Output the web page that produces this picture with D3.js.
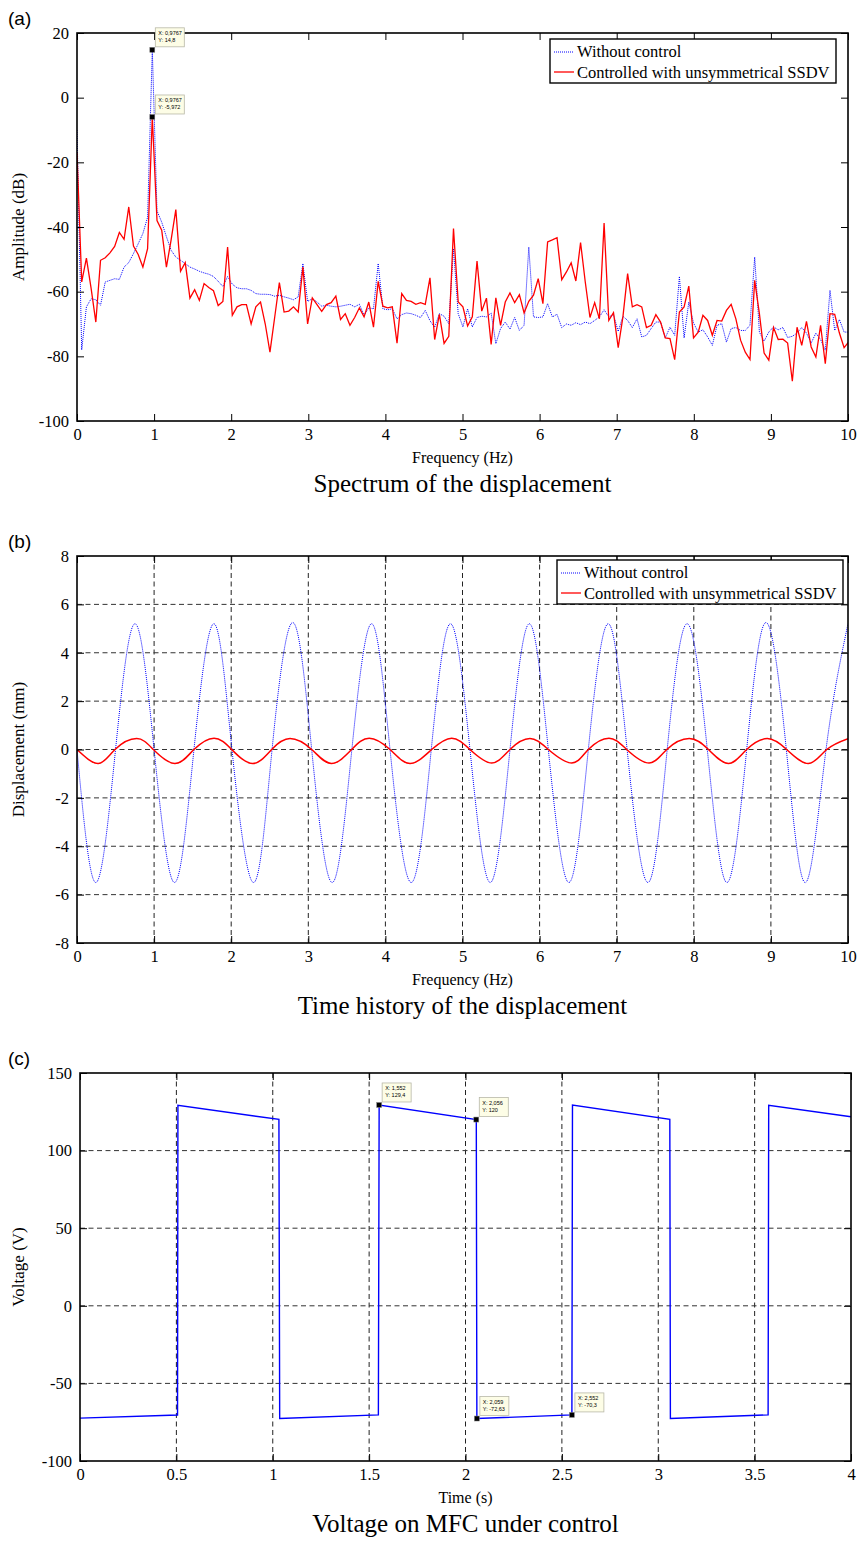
<!DOCTYPE html>
<html>
<head>
<meta charset="utf-8">
<script src="https://cdn.jsdelivr.net/npm/d3@7"></script>
<style>
  body { margin: 0; background: #fff; }
  text { font-family: "Liberation Serif", "Times New Roman", serif; }
</style>
</head>
<body>
<script>
console.log("script loaded");

// (a) spectrum, one value every df Hz starting at 0 Hz
const df = 0.06104;
const specWithout = [
  -10, -78, -64.7, -62.2, -62.5, -64.2, -57, -56.5, -56, -56.2,
  -52.4, -51, -48.2, -45.2, -42, -37, 14.8, -35, -38.5, -43,
  -47.2, -49.3, -50.3, -51.3, -52.4, -53, -53.7, -54.2, -54.6, -55.3,
  -56.8, -58.4, -55.3, -57.7, -58.8, -59.1, -59.1, -59.6, -60.6, -60.8,
  -60.8, -60.9, -61.4, -61.1, -61.6, -62, -62.5, -61.6, -51.3, -63,
  -62.2, -63.2, -64.5, -64.2, -64.5, -64.7, -64.5, -64.2, -63.9, -64.7,
  -63.9, -67.3, -65, -65.3, -51.3, -65.3, -65.6, -65.3, -68.4, -67.1,
  -66.6, -66.8, -67.3, -68, -65.8, -69, -71, -66.8, -67.6, -69.9,
  -46.7, -66.8, -70.9, -65.3, -70.9, -68, -67.6, -67.8, -66.6, -76.1,
  -71.4, -69.4, -71.6, -68, -72, -70.4, -46.2, -67.8, -68, -67.8,
  -63.7, -67.8, -67, -71.1, -70, -70.4, -69.6, -70.2, -69.4, -69.9,
  -68.9, -67.8, -65.6, -67.8, -67.1, -72.3, -67.6, -68.9, -71.1, -68.4,
  -74, -73.5, -71.4, -69.4, -69.4, -74.3, -71, -73.5, -55.3, -74.3,
  -63.2, -69.7, -72.5, -71.8, -74, -76.6, -70.4, -69.9, -75.6, -71.4,
  -71.1, -72, -72, -70.4, -49.3, -72.5, -75.3, -72.5, -70.9, -71.8,
  -71.1, -74.2, -73.8, -72.8, -71.1, -72.8, -75.9, -72.8, -74.8, -78.1,
  -59.6, -72, -68.6, -72.5, -72.5
];
const specControlled = [
  -17, -57, -49.6, -59, -69.4, -50.3, -49.5, -48, -46, -41.7,
  -43.8, -33.8, -45.9, -48.5, -52.4, -46.7, -5.97, -38, -41, -52.4,
  -44, -34.6, -53.7, -51, -62, -59.4, -62.7, -57.5, -58.7, -59.7,
  -64.3, -63, -46.2, -67.3, -64.7, -64, -64, -70, -64.7, -63.2,
  -70, -78.7, -68, -57.2, -66.3, -66, -64.7, -66.3, -52.4, -70,
  -61.9, -64, -66.1, -64, -63.4, -61.4, -68.6, -66.8, -70.4, -68,
  -65, -67.8, -63.2, -71, -56.8, -64.5, -65, -64.7, -75.9, -60.6,
  -62.7, -63, -63.9, -63.4, -63.9, -55.7, -74.8, -67, -76, -73.8,
  -40.5, -63.2, -64.7, -70.6, -67.8, -50.5, -66, -62, -76.3, -61.9,
  -70.4, -63.2, -60.4, -63.4, -60.9, -66.6, -63, -61.1, -56, -63.7,
  -44.6, -44, -43.3, -56.3, -53.9, -51.1, -56.7, -44.8, -57, -68,
  -63.4, -68.4, -38.8, -68.9, -66.5, -77.3, -67.8, -54.4, -64.7, -64,
  -64.7, -71.1, -70.4, -67.1, -69.4, -74.3, -74.5, -81, -66.3, -64.7,
  -58.3, -74.3, -72.5, -67.3, -68.9, -73.5, -68.9, -69.1, -65.8, -63.9,
  -68.4, -75, -78.7, -81, -56.5, -66.8, -79, -81.2, -71.1, -74.8,
  -74.7, -75.9, -87.7, -71, -76.6, -69.2, -77.1, -80.2, -70.4, -82.3,
  -66.8, -67, -72.8, -77.3, -75.5
];
const specTips = [
  { x: 0.9767, y: 14.8, lines: ["X: 0,9767", "Y: 14,8"] },
  { x: 0.9767, y: -5.972, lines: ["X: 0,9767", "Y: -5,972"] }
];
const specXTicks = [0, 1, 2, 3, 4, 5, 6, 7, 8, 9, 10];
const specYTicks = [20, 0, -20, -40, -60, -80, -100];

// (b) displacement, points read at zero crossings and peaks [t, mm]
const dispWithout = [
  [0, 0], [0.245, -5.5], [0.5, 0], [0.752, 5.2], [1.0, 0], [1.265, -5.5], [1.517, 0], [1.775, 5.2],
  [2.01, 0], [2.29, -5.5], [2.53, 0], [2.798, 5.25], [3.044, 0], [3.31, -5.5], [3.565, 0], [3.821, 5.2],
  [4.06, 0], [4.335, -5.5], [4.595, 0], [4.844, 5.2], [5.097, 0], [5.36, -5.5], [5.616, 0], [5.867, 5.2],
  [6.113, 0], [6.38, -5.5], [6.632, 0], [6.89, 5.2], [7.135, 0], [7.405, -5.5], [7.655, 0], [7.913, 5.2],
  [8.175, 0], [8.43, -5.5], [8.686, 0], [8.936, 5.25], [9.2, 0], [9.45, -5.5], [9.715, 0], [10, 5.2]
];
const dispControlled = [
  [0, 0], [0.276, -0.58], [0.493, 0], [0.774, 0.45], [0.99, 0], [1.27, -0.58], [1.517, 0], [1.777, 0.47],
  [2.006, 0], [2.278, -0.58], [2.525, 0], [2.763, 0.45], [3.044, 0], [3.3, -0.58], [3.563, 0], [3.79, 0.47],
  [4.06, 0], [4.32, -0.58], [4.6, 0], [4.86, 0.47], [5.097, 0], [5.378, -0.56], [5.616, 0], [5.875, 0.45],
  [6.113, 0], [6.416, -0.56], [6.632, 0], [6.9, 0.47], [7.13, 0], [7.42, -0.56], [7.65, 0], [7.94, 0.45],
  [8.19, 0], [8.45, -0.58], [8.686, 0], [8.953, 0.45], [9.205, 0], [9.485, -0.58], [9.724, 0], [10, 0.45]
];
const dispXTicks = [0, 1, 2, 3, 4, 5, 6, 7, 8, 9, 10];
const dispYTicks = [8, 6, 4, 2, 0, -2, -4, -6, -8];

// (c) voltage on the MFC [s, V]
const voltage = [
  [0, -72.4], [0.506, -70.4], [0.508, 129.2], [1.032, 120.1], [1.036, -72.6], [1.548, -70.3],
  [1.552, 129.4], [2.056, 120], [2.059, -72.63], [2.552, -70.3], [2.555, 129.3], [3.06, 120.2],
  [3.063, -72.6], [3.57, -70.3], [3.573, 129.2], [4, 121.8]
];
const voltTips = [
  { x: 1.552, y: 129.4, lines: ["X: 1,552", "Y: 129,4"] },
  { x: 2.056, y: 120, lines: ["X: 2,056", "Y: 120"] },
  { x: 2.059, y: -72.63, lines: ["X: 2,059", "Y: -72,63"] },
  { x: 2.552, y: -70.3, lines: ["X: 2,552", "Y: -70,3"] }
];
const voltXTicks = [0, 0.5, 1, 1.5, 2, 2.5, 3, 3.5, 4];
const voltYTicks = [150, 100, 50, 0, -50, -100];

const legendNames = ["Without control", "Controlled with unsymmetrical SSDV"];

const serif = "'Liberation Serif', 'Times New Roman', serif";
const sans = "'Liberation Sans', Arial, sans-serif";

let svg = d3.select("body")
  .append("svg")
    .attr("width", 860)
    .attr("height", 1541)
;

// frame, ticks, grid and labels of one panel
function makePanel(p){
  let x = d3.scaleLinear().domain(p.xDomain).range([p.left, p.right]);
  let y = d3.scaleLinear().domain(p.yDomain).range([p.bottom, p.top]);
  let g = svg.append("g");

  if (p.xGrid){
    g.selectAll(".vgrid").data(p.xGrid).enter()
      .append("line")
      .attr("x1", d => x(d)).attr("x2", d => x(d))
      .attr("y1", p.top).attr("y2", p.bottom)
      .attr("stroke", "#222").attr("stroke-dasharray", "5,3.5");
    g.selectAll(".hgrid").data(p.yGrid).enter()
      .append("line")
      .attr("x1", p.left).attr("x2", p.right)
      .attr("y1", d => y(d)).attr("y2", d => y(d))
      .attr("stroke", "#333").attr("stroke-dasharray", "5,3.5");
  }

  g.append("clipPath").attr("id", p.id)
    .append("rect")
      .attr("x", p.left).attr("y", p.top)
      .attr("width", p.right - p.left).attr("height", p.bottom - p.top);
  let plot = g.append("g").attr("clip-path", "url(#" + p.id + ")");

  let fmt = d => String(d);
  let axes = g.append("g");
  axes.append("g").attr("transform", "translate(0," + p.bottom + ")")
    .call(d3.axisBottom(x).tickValues(p.xTicks).tickSize(-7).tickSizeOuter(0).tickPadding(7).tickFormat(fmt));
  axes.append("g").attr("transform", "translate(0," + p.top + ")")
    .call(d3.axisTop(x).tickValues(p.xTicks).tickSize(-7).tickSizeOuter(0).tickFormat(""));
  axes.append("g").attr("transform", "translate(" + p.left + ",0)")
    .call(d3.axisLeft(y).tickValues(p.yTicks).tickSize(-7).tickSizeOuter(0).tickPadding(8).tickFormat(fmt));
  axes.append("g").attr("transform", "translate(" + p.right + ",0)")
    .call(d3.axisRight(y).tickValues(p.yTicks).tickSize(-7).tickSizeOuter(0).tickFormat(""));
  axes.selectAll(".domain").remove();
  axes.selectAll(".tick line").attr("stroke", "#000").attr("stroke-width", 1);
  axes.selectAll(".tick text")
    .style("font-family", serif).style("font-size", "16.5px").attr("fill", "#000");

  g.append("rect")
    .attr("x", p.left).attr("y", p.top)
    .attr("width", p.right - p.left).attr("height", p.bottom - p.top)
    .attr("fill", "none").attr("stroke", "#000").attr("stroke-width", 1.6);

  // (a), (b), (c)
  g.append("text").attr("x", 8).attr("y", p.top - 8)
    .style("font-family", sans).style("font-size", "19px")
    .text(p.tag);
  g.append("text").attr("x", (p.left + p.right) / 2).attr("y", p.bottom + 42)
    .attr("text-anchor", "middle").style("font-size", "16px").text(p.xLabel);
  g.append("text").attr("x", (p.left + p.right) / 2).attr("y", p.bottom + 71)
    .attr("text-anchor", "middle").style("font-size", "25px").text(p.title);
  g.append("text")
    .attr("transform", "translate(24," + (p.top + p.bottom) / 2 + ") rotate(-90)")
    .attr("text-anchor", "middle").style("font-size", "17px").text(p.yLabel);

  return { x: x, y: y, g: g, plot: plot };
}

function drawLegend(g, lx, ly, w){
  g.append("rect").attr("x", lx).attr("y", ly).attr("width", w).attr("height", 44)
    .attr("fill", "#fff").attr("stroke", "#000").attr("stroke-width", 1.4);
  g.append("line").attr("x1", lx + 4).attr("x2", lx + 24).attr("y1", ly + 13).attr("y2", ly + 13)
    .attr("stroke", "#0000ff").attr("stroke-dasharray", "1,1");
  g.append("line").attr("x1", lx + 4).attr("x2", lx + 24).attr("y1", ly + 33).attr("y2", ly + 33)
    .attr("stroke", "#ff0000").attr("stroke-width", 1.3);
  g.selectAll(".leg").data(legendNames).enter()
    .append("text")
    .attr("x", lx + 27)
    .attr("y", (d, i) => ly + 18 + i * 21)
    .style("font-size", "16.5px")
    .text(d => d);
}

// data cursor boxes like the ones matlab leaves on the figure
function drawTips(panel, tips){
  let t = panel.g.selectAll(".tip").data(tips).enter().append("g")
    .attr("transform", d => "translate(" + panel.x(d.x) + "," + panel.y(d.y) + ")");
  t.append("rect").attr("x", 3).attr("y", -22).attr("width", 29).attr("height", 19)
    .attr("fill", "#fdfde6").attr("stroke", "#b8b8a8").attr("stroke-width", 0.8);
  t.append("text").attr("x", 6).attr("y", -15)
    .style("font-family", sans).style("font-size", "5.5px")
    .text(d => d.lines[0]);
  t.append("text").attr("x", 6).attr("y", -7.5)
    .style("font-family", sans).style("font-size", "5.5px")
    .text(d => d.lines[1]);
  t.append("rect").attr("x", -2.5).attr("y", -2.5).attr("width", 5).attr("height", 5)
    .attr("fill", "#000").attr("stroke", "#888").attr("stroke-width", 0.5);
}

// 1. spectrum
let pa = makePanel({
  id: "clipA", tag: "(a)", left: 77, right: 848, top: 33, bottom: 421,
  xDomain: [0, 10], yDomain: [-100, 20], xTicks: specXTicks, yTicks: specYTicks,
  xLabel: "Frequency (Hz)", yLabel: "Amplitude (dB)", title: "Spectrum of the displacement"
});
let specLine = d3.line().x((d, i) => pa.x(i * df)).y(d => pa.y(d));
pa.plot.append("path").datum(specWithout).attr("d", specLine)
  .attr("fill", "none").attr("stroke", "#0000ff").attr("stroke-width", 1).attr("stroke-dasharray", "1,1");
pa.plot.append("path").datum(specControlled).attr("d", specLine)
  .attr("fill", "none").attr("stroke", "#ff0000").attr("stroke-width", 1.3);
drawTips(pa, specTips);
drawLegend(pa.g, 550, 39, 286);

// 2. time history
let pb = makePanel({
  id: "clipB", tag: "(b)", left: 77, right: 848, top: 556, bottom: 943,
  xDomain: [0, 10], yDomain: [-8, 8], xTicks: dispXTicks, yTicks: dispYTicks,
  xGrid: [1, 2, 3, 4, 5, 6, 7, 8, 9], yGrid: [6, 4, 2, 0, -2, -4, -6],
  xLabel: "Frequency (Hz)", yLabel: "Displacement (mm)", title: "Time history of the displacement"
});
let dispLine = d3.line().x(d => pb.x(d[0])).y(d => pb.y(d[1])).curve(d3.curveNatural);
pb.plot.append("path").datum(dispWithout).attr("d", dispLine)
  .attr("fill", "none").attr("stroke", "#0000ff").attr("stroke-width", 1).attr("stroke-dasharray", "1,1");
pb.plot.append("path").datum(dispControlled).attr("d", dispLine)
  .attr("fill", "none").attr("stroke", "#ff0000").attr("stroke-width", 1.5);
drawLegend(pb.g, 557, 560, 286);

// 3. voltage
let pc = makePanel({
  id: "clipC", tag: "(c)", left: 80, right: 851, top: 1073, bottom: 1461,
  xDomain: [0, 4], yDomain: [-100, 150], xTicks: voltXTicks, yTicks: voltYTicks,
  xGrid: [0.5, 1, 1.5, 2, 2.5, 3, 3.5], yGrid: [100, 50, 0, -50],
  xLabel: "Time (s)", yLabel: "Voltage (V)", title: "Voltage on MFC under control"
});
let voltLine = d3.line().x(d => pc.x(d[0])).y(d => pc.y(d[1]));
pc.plot.append("path").datum(voltage).attr("d", voltLine)
  .attr("fill", "none").attr("stroke", "#0000ff").attr("stroke-width", 1.4);
drawTips(pc, voltTips);
</script>
</body>
</html>
